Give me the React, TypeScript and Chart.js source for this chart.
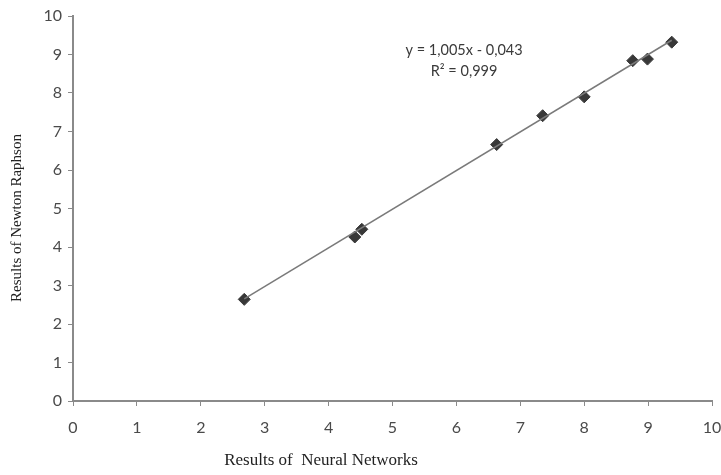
import React, { useEffect, useRef } from "react";
import { Chart, registerables } from "chart.js";

Chart.register(...registerables);

const nnResults = [2.68, 4.41, 4.52, 6.63, 7.35, 8.0, 8.76, 8.99, 9.37];
const nrResults = [2.64, 4.26, 4.46, 6.66, 7.41, 7.9, 8.84, 8.88, 9.32];
const trendX = [2.68, 9.37];
const trendY = [2.65, 9.37];
const xTicks = [0, 1, 2, 3, 4, 5, 6, 7, 8, 9, 10];
const yTicks = [0, 1, 2, 3, 4, 5, 6, 7, 8, 9, 10];
const equationText = "y = 1,005x - 0,043";
const r2Text = "R² = 0,999";
const xTitle = "Results of  Neural Networks";
const yTitle = "Results of Newton Raphson";

const textPlugin = {
  id: "customText",
  afterDraw(chart: any) {
    const ctx = chart.ctx;
    const xs = chart.scales.x;
    const ys = chart.scales.y;
    ctx.save();
    ctx.fillStyle = "#3a3a3a";
    ctx.textAlign = "center";
    ctx.textBaseline = "middle";
    ctx.font = "14.5px 'Lato', 'Liberation Sans', sans-serif";
    ctx.fillText(equationText, xs.getPixelForValue(6.12), ys.getPixelForValue(9.1));
    ctx.fillText(r2Text, xs.getPixelForValue(6.12), ys.getPixelForValue(8.57));
    ctx.font = "17px 'Liberation Serif', 'Times New Roman', serif";
    ctx.fillStyle = "#222";
    ctx.fillText(xTitle, 321, 461);
    ctx.font = "15px 'Liberation Serif', 'Times New Roman', serif";
    ctx.translate(17, 218);
    ctx.rotate(-Math.PI / 2);
    ctx.fillText(yTitle, 0, 0);
    ctx.restore();
  },
};

export default function App() {
  const ref = useRef<HTMLCanvasElement>(null);
  useEffect(() => {
    document.body.style.margin = "0";
    const chart = new Chart(ref.current!, {
      type: "scatter",
      data: {
        datasets: [
          {
            label: "trend",
            data: trendX.map((x, i) => ({ x, y: trendY[i] })),
            showLine: true,
            borderColor: "#7a7a7a",
            borderWidth: 1.5,
            pointRadius: 0,
          },
          {
            label: "points",
            data: nnResults.map((x, i) => ({ x, y: nrResults[i] })),
            pointStyle: "rectRot",
            pointRadius: 6,
            backgroundColor: "#383838",
            borderColor: "#383838",
            borderWidth: 1,
          },
        ],
      },
      options: {
        animation: false,
        responsive: false,
        maintainAspectRatio: false,
        layout: { padding: { left: 0, right: 9, top: 16, bottom: 0 } },
        plugins: { legend: { display: false }, tooltip: { enabled: false } },
        scales: {
          x: {
            type: "linear",
            min: 0,
            max: 10,
            afterBuildTicks: (s: any) => {
              s.ticks = xTicks.map((v) => ({ value: v }));
            },
            afterFit: (s: any) => {
              s.height = 74;
              s.paddingLeft = 0;
              s.paddingRight = 0;
            },
            grid: {
              display: true,
              drawOnChartArea: false,
              drawTicks: true,
              tickLength: 5,
              color: "#8a8a8a",
            },
            border: { color: "#8a8a8a", width: 2 },
            ticks: {
              padding: 12,
              color: "#4a4a4a",
              font: { family: "'Lato', 'Liberation Sans', sans-serif", size: 16 },
            },
          },
          y: {
            type: "linear",
            min: 0,
            max: 10,
            afterBuildTicks: (s: any) => {
              s.ticks = yTicks.map((v) => ({ value: v }));
            },
            afterFit: (s: any) => {
              s.width = 73;
              s.paddingTop = 0;
              s.paddingBottom = 0;
            },
            grid: {
              display: true,
              drawOnChartArea: false,
              drawTicks: true,
              tickLength: 5,
              color: "#8a8a8a",
            },
            border: { color: "#8a8a8a", width: 2 },
            ticks: {
              padding: 6,
              color: "#4a4a4a",
              font: { family: "'Lato', 'Liberation Sans', sans-serif", size: 16 },
            },
          },
        },
      },
      plugins: [textPlugin],
    });
    return () => chart.destroy();
  }, []);
  return <canvas ref={ref} width={721} height={475} style={{ display: "block" }} />;
}
